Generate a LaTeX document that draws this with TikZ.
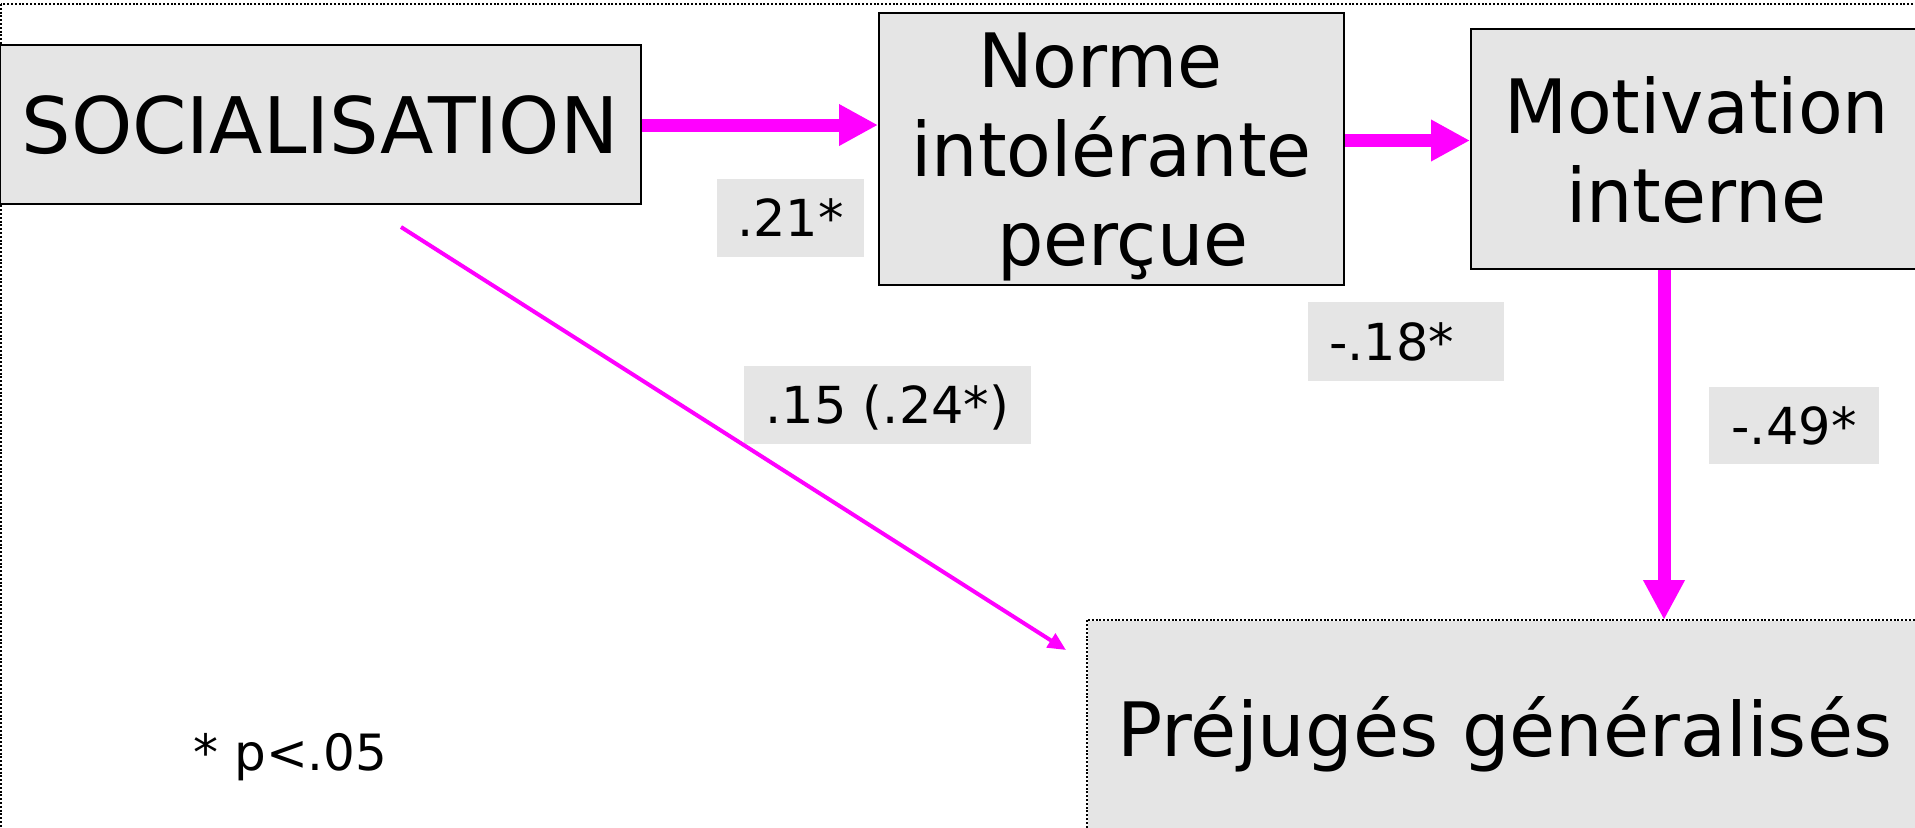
\documentclass[tikz,border=0pt]{standalone}
\usepackage{fontspec}
\setmainfont{DejaVu Sans}
\newfontfamily\boxfont[FakeStretch=0.975]{DejaVu Sans}
\usetikzlibrary{arrows.meta}
\definecolor{boxgray}{RGB}{229,229,229}
\definecolor{mag}{RGB}{255,0,255}
\begin{document}
\begin{tikzpicture}[x=0.5pt,y=-0.5pt,
  varbox/.style={draw=black, line width=1pt, fill=boxgray, inner sep=0pt, align=center},
  captext/.style={font=\fontsize{39pt}{44.5pt}\selectfont},
  bigtext/.style={font=\fontsize{37.5pt}{44.5pt}\selectfont\boxfont},
  widetext/.style={font=\fontsize{37.5pt}{44.5pt}\selectfont},
  coef/.style={fill=boxgray, inner sep=0pt, font=\fontsize{25.5pt}{30pt}\selectfont, text height=18.6pt, text depth=0pt},
  thickarrow/.style={draw=mag, line width=6.5pt, -{Triangle[length=19.5pt,width=19.5pt]}},
  thinarrow/.style={draw=mag, line width=2pt, -{Triangle[length=9pt,width=8pt]}},
  dotframe/.style={draw=black, line width=1pt, dash pattern=on 1pt off 0.9pt}
]
\useasboundingbox (0,0) rectangle (1915,827);
\clip (0,0) rectangle (1915,827);

% outer dotted frame
\draw[dotframe] (1,4) rectangle (1935,850);

% variable boxes
\node[varbox, captext, minimum width=320.5pt, minimum height=79.5pt, text depth=0pt] (soc) at (320,124.5) {SOCIALISATION};
\node[varbox, bigtext, minimum width=232.5pt, minimum height=136pt, text depth=0pt] (norme) at (1111.5,149)
  {Norme\hspace*{.3em}\\intolérante\\\hspace*{.3em}perçue};
\node[varbox, bigtext, minimum width=225.5pt, minimum height=120pt, text depth=0pt] (motiv) at (1696.5,149)
  {Motivation\\interne};
\node[varbox, widetext, draw=none, minimum width=417.5pt, minimum height=108.5pt, text height=27.3pt, text depth=0pt] (prej) at (1505,729.5)
  {Préjugés généralisés};
\draw[dotframe] (prej.south west) -- (prej.north west) -- (prej.north east);

% coefficients
\node[coef, minimum width=73.5pt, minimum height=39pt] (c21) at (790.5,218) {.21*};
\node[coef, minimum width=98pt, minimum height=39.5pt] (c18) at (1406,341.5) {-.18*\hspace*{0.56em}};
\node[coef, minimum width=143.5pt, minimum height=39pt] (c15) at (887.5,405) {.15 (.24*)};
\node[coef, minimum width=85pt, minimum height=38.5pt] (c49) at (1794,425.5) {-.49*};

% footnote
\node[anchor=base west, inner sep=0pt, font=\fontsize{25pt}{29pt}\selectfont] (note) at (193,770) {* p<.05};

% connectors
\draw[thickarrow] (soc.east |- 0,125) -- (norme.west |- 0,125);
\draw[thickarrow] (norme.east |- 0,140.5) -- (motiv.west |- 0,140.5);
\draw[thickarrow, -{Triangle[length=20pt,width=19.5pt]}] (1664,0 |- motiv.south) -- (1664,0 |- prej.north);
\coordinate (dstart) at (401,227);
\coordinate (dend) at (1066,650);
\draw[thinarrow] (dstart) -- (dend);
\end{tikzpicture}
\end{document}
